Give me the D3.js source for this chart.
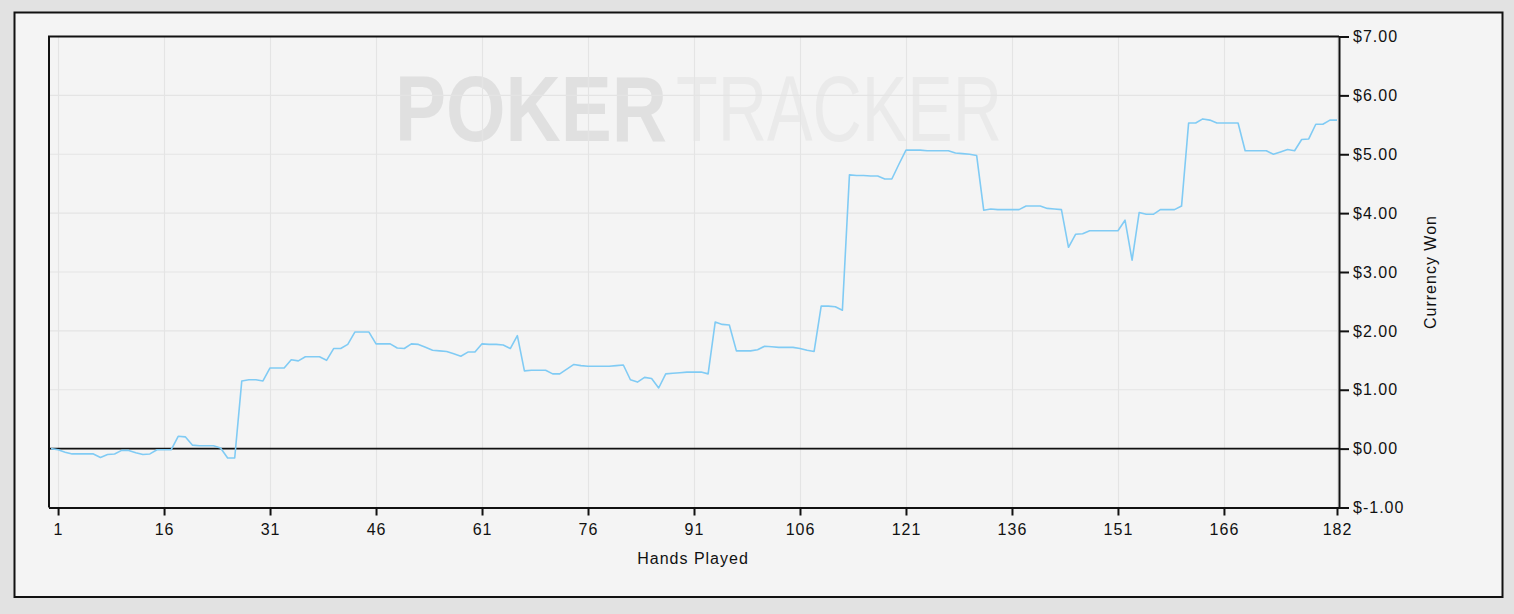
<!DOCTYPE html>
<html>
<head>
<meta charset="utf-8">
<script src="https://cdn.jsdelivr.net/npm/d3@7"></script>
<style>
  html, body { margin: 0; padding: 0; background: #e2e2e2; }
  svg { display: block; }
  text { font-family: "Liberation Sans", Arial, sans-serif; }
</style>
</head>
<body>
<svg id="chart" width="1514" height="614"></svg>
<script>
// ---- Data ----
const hands = d3.range(0, 183);           // hand index 0..182
const currencyWon = [
  0.00, -0.02, -0.06, -0.09, -0.09, -0.09, -0.09, -0.15, -0.10, -0.09,
  -0.03, -0.03, -0.07, -0.10, -0.09, -0.02, -0.02, -0.02, 0.21, 0.20,
  0.06, 0.05, 0.05, 0.05, 0.01, -0.16, -0.16, 1.15, 1.17, 1.17,
  1.15, 1.37, 1.37, 1.37, 1.51, 1.49, 1.56, 1.56, 1.56, 1.50,
  1.70, 1.70, 1.77, 1.98, 1.98, 1.98, 1.78, 1.78, 1.78, 1.71,
  1.70, 1.78, 1.77, 1.72, 1.67, 1.66, 1.65, 1.61, 1.57, 1.64,
  1.64, 1.78, 1.77, 1.77, 1.76, 1.70, 1.92, 1.32, 1.33, 1.33,
  1.33, 1.27, 1.27, 1.35, 1.43, 1.41, 1.40, 1.40, 1.40, 1.40,
  1.41, 1.42, 1.17, 1.13, 1.21, 1.19, 1.03, 1.27, 1.28, 1.29,
  1.30, 1.30, 1.30, 1.27, 2.15, 2.11, 2.10, 1.66, 1.66, 1.66,
  1.68, 1.74, 1.73, 1.72, 1.72, 1.72, 1.70, 1.67, 1.65, 2.42,
  2.42, 2.41, 2.35, 4.65, 4.64, 4.64, 4.63, 4.63, 4.58, 4.58,
  4.83, 5.07, 5.07, 5.07, 5.06, 5.06, 5.06, 5.06, 5.02, 5.01,
  5.00, 4.98, 4.05, 4.07, 4.06, 4.06, 4.06, 4.06, 4.12, 4.12,
  4.12, 4.08, 4.07, 4.06, 3.42, 3.64, 3.65, 3.70, 3.70, 3.70,
  3.70, 3.70, 3.88, 3.20, 4.01, 3.98, 3.98, 4.06, 4.06, 4.06,
  4.12, 5.53, 5.53, 5.60, 5.58, 5.53, 5.53, 5.53, 5.53, 5.06,
  5.06, 5.06, 5.06, 5.00, 5.04, 5.08, 5.06, 5.25, 5.26, 5.51,
  5.51, 5.58, 5.58
];
const xTickValues = [1, 16, 31, 46, 61, 76, 91, 106, 121, 136, 151, 166, 182];
const yTickValues = [-1, 0, 1, 2, 3, 4, 5, 6, 7];
const xTitle = "Hands Played";
const yTitle = "Currency Won";
const watermarkBold = "POKER";
const watermarkLight = "TRACKER";

// ---- Layout ----
const svg = d3.select("#chart");
const plot = { left: 49, right: 1339, top: 36.5, bottom: 507.5 };

// outer panel
svg.append("rect")
  .attr("x", 14.5).attr("y", 12.5).attr("width", 1488).attr("height", 584.5)
  .attr("fill", "#f4f4f4").attr("stroke", "#111").attr("stroke-width", 2);

const x = d3.scaleLinear().domain([0, 182]).range([51, 1337]);
const y = d3.scaleLinear().domain([-1, 7]).range([plot.bottom, plot.top]);

// watermark: two words, each horizontally condensed to fit its span
function condensedWord(txt, x0, width, weight, color) {
  const g = svg.append("g");
  const t = g.append("text")
    .attr("x", 0).attr("y", 0)
    .style("font-size", "92px").style("font-weight", weight)
    .attr("fill", color)
    .text(txt);
  const natural = t.node().getComputedTextLength();
  g.attr("transform", `translate(${x0},141) scale(${width / natural},1)`);
}
condensedWord(watermarkBold, 395, 272, "bold", "#e0e0e0");
condensedWord(watermarkLight, 676, 326, "normal", "#eaeaea");

// grid
const grid = svg.append("g").attr("class", "grid");
grid.selectAll("line.v").data(xTickValues).join("line")
  .attr("class", "v")
  .attr("x1", d => Math.round(x(d)) + 0.5).attr("x2", d => Math.round(x(d)) + 0.5)
  .attr("y1", plot.top).attr("y2", plot.bottom)
  .attr("stroke", "#e4e4e4").attr("stroke-width", 1.2);
grid.selectAll("line.h").data(yTickValues).join("line")
  .attr("class", "h")
  .attr("x1", plot.left).attr("x2", plot.right)
  .attr("y1", d => y(d)).attr("y2", d => y(d))
  .attr("stroke", "#e4e4e4").attr("stroke-width", 1.2);

// zero line
svg.append("line")
  .attr("x1", plot.left).attr("x2", plot.right)
  .attr("y1", y(0)).attr("y2", y(0))
  .attr("stroke", "#111").attr("stroke-width", 1.6);

// series line
const line = d3.line()
  .x((d, i) => x(hands[i]))
  .y(d => y(d));
svg.append("path")
  .datum(currencyWon)
  .attr("d", line)
  .attr("fill", "none")
  .attr("stroke", "#80cbf4")
  .attr("stroke-width", 1.6)
  .attr("stroke-linejoin", "round");

// frame: top and left
svg.append("path")
  .attr("d", `M${plot.left},${plot.bottom}V${plot.top}H${plot.right}`)
  .attr("fill", "none").attr("stroke", "#111").attr("stroke-width", 2);

// x axis
const xAxis = d3.axisBottom(x).tickValues(xTickValues).tickSize(8).tickPadding(8).tickSizeOuter(0);
const gx = svg.append("g").attr("transform", `translate(0,${plot.bottom})`).call(xAxis);
gx.select(".domain").attr("d", `M${plot.left},0.5H${plot.right}`).attr("stroke", "#111").attr("stroke-width", 2);
gx.selectAll(".tick line").attr("stroke", "#111").attr("stroke-width", 2);
gx.selectAll(".tick text")
  .style("font-size", "16px").style("letter-spacing", "1px")
  .attr("font-family", null).attr("fill", "#111");

// y axis (right)
const yAxis = d3.axisRight(y).tickValues(yTickValues).tickSize(10).tickPadding(4).tickSizeOuter(0)
  .tickFormat(d => "$" + d.toFixed(2));
const gy = svg.append("g").attr("transform", `translate(${plot.right},0)`).call(yAxis);
gy.select(".domain").attr("stroke", "#111").attr("stroke-width", 2);
gy.selectAll(".tick line").attr("stroke", "#111").attr("stroke-width", 2);
gy.selectAll(".tick text")
  .style("font-size", "16px").style("letter-spacing", "1px")
  .attr("font-family", null).attr("fill", "#111");

// titles
svg.append("text")
  .attr("x", 693).attr("y", 564)
  .attr("text-anchor", "middle")
  .style("font-size", "16px").style("letter-spacing", "1px")
  .attr("fill", "#111")
  .text(xTitle);
svg.append("text")
  .attr("transform", "translate(1436,272) rotate(-90)")
  .attr("text-anchor", "middle")
  .style("font-size", "16px").style("letter-spacing", "1px")
  .attr("fill", "#111")
  .text(yTitle);
</script>
</body>
</html>
